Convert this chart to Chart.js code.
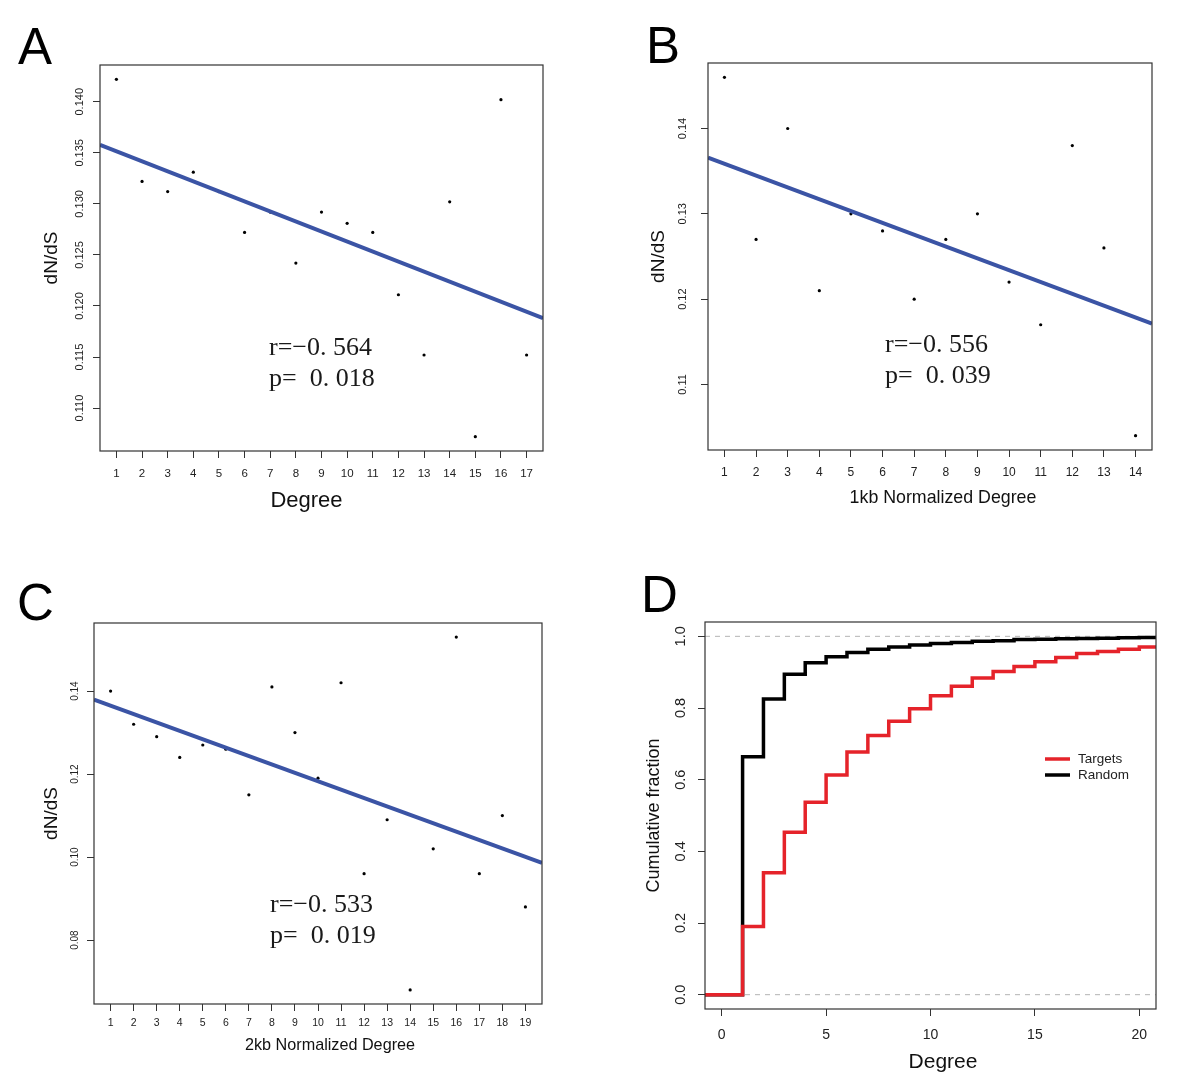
<!DOCTYPE html>
<html><head><meta charset="utf-8">
<script src="https://cdn.jsdelivr.net/npm/chart.js@4"></script>
<style>
html,body{margin:0;padding:0;background:#fff;width:1200px;height:1082px;overflow:hidden}
canvas{position:absolute}
</style></head><body>
<canvas id="cA" width="600" height="541" style="left:0;top:0;width:600px;height:541px"></canvas>
<canvas id="cB" width="600" height="541" style="left:600px;top:0;width:600px;height:541px"></canvas>
<canvas id="cC" width="600" height="541" style="left:0;top:541px;width:600px;height:541px"></canvas>
<canvas id="cD" width="600" height="541" style="left:600px;top:541px;width:600px;height:541px"></canvas>
<script>
const SANS = "'Liberation Sans', Arial, sans-serif";
const SERIF = "'Liberation Serif', 'Times New Roman', serif";

// ---- Panel A ----
const degreesA = [1,2,3,4,5,6,7,8,9,10,11,12,13,14,15,16,17];
const dndsA = [0.1422,0.1322,0.1312,0.1331,0.1312,0.1272,0.1292,0.1242,0.1292,0.1281,0.1272,0.1211,0.1152,0.1302,0.1072,0.1402,0.1152];
const yTicksA = [0.110,0.115,0.120,0.125,0.130,0.135,0.140];
const statsA = ['r=\u22120. 564','p=  0. 018'];

// ---- Panel B ----
const degreesB = [1,2,3,4,5,6,7,8,9,10,11,12,13,14];
const dndsB = [0.146,0.127,0.140,0.121,0.130,0.128,0.120,0.127,0.130,0.122,0.117,0.138,0.126,0.104];
const yTicksB = [0.11,0.12,0.13,0.14];
const statsB = ['r=\u22120. 556','p=  0. 039'];

// ---- Panel C ----
const degreesC = [1,2,3,4,5,6,7,8,9,10,11,12,13,14,15,16,17,18,19];
const dndsC = [0.140,0.132,0.129,0.124,0.127,0.126,0.115,0.141,0.130,0.119,0.142,0.096,0.109,0.068,0.102,0.153,0.096,0.110,0.088];
const yTicksC = [0.08,0.10,0.12,0.14];
const statsC = ['r=\u22120. 533','p=  0. 019'];

// ---- Panel D ----
const degreesD = [0,1,2,3,4,5,6,7,8,9,10,11,12,13,14,15,16,17,18,19,20];
const targetsD = [0,0.190,0.340,0.453,0.537,0.613,0.677,0.723,0.763,0.798,0.834,0.861,0.884,0.902,0.916,0.929,0.941,0.952,0.958,0.964,0.970];
const randomD  = [0,0.664,0.825,0.894,0.926,0.943,0.955,0.964,0.970,0.976,0.980,0.983,0.986,0.988,0.991,0.992,0.993,0.994,0.995,0.996,0.997];
const xTicksD = [0,5,10,15,20];
const yTicksD = [0,0.2,0.4,0.6,0.8,1.0];
const refLevelsD = [0,1];
const seriesNamesD = ['Targets','Random'];

function rRange(lo, hi){ const p=(hi-lo)*0.04; return [lo-p, hi+p]; }
function lsFit(xs, ys){
  const n=xs.length, mx=xs.reduce((a,b)=>a+b,0)/n, my=ys.reduce((a,b)=>a+b,0)/n;
  let sxy=0,sxx=0; for(let i=0;i<n;i++){sxy+=(xs[i]-mx)*(ys[i]-my); sxx+=(xs[i]-mx)*(xs[i]-mx);}
  const b=sxy/sxx; return {a:my-b*mx, b};
}

const extras = {
  id:'panelExtras',
  afterDraw(chart, args, o){
    const ctx=chart.ctx, ca=chart.chartArea;
    ctx.save();
    ctx.strokeStyle='#333'; ctx.lineWidth=1.2;
    ctx.strokeRect(ca.left, ca.top, ca.right-ca.left, ca.bottom-ca.top);
    const ys=chart.scales.y;
    ctx.fillStyle='#222'; ctx.font=o.yTickFont; ctx.textAlign='center'; ctx.textBaseline='middle';
    ys.ticks.forEach(t=>{
      const py=ys.getPixelForValue(t.value);
      ctx.save(); ctx.translate(o.yTickX, py); ctx.rotate(-Math.PI/2);
      ctx.fillText(t.value.toFixed(o.yTickDigits),0,0); ctx.restore();
    });
    // x-axis title
    ctx.fillStyle='#111'; ctx.font=o.xTitle.font; ctx.textAlign='center'; ctx.textBaseline='middle';
    ctx.fillText(o.xTitle.text, o.xTitle.x, o.xTitle.y);
    // panel letter
    ctx.fillStyle='#000'; ctx.font='51px '+SANS; ctx.textAlign='left'; ctx.textBaseline='alphabetic';
    ctx.fillText(o.letter, o.letterX, o.letterY);
    if(o.notes){
      ctx.font=o.noteFont; ctx.fillStyle='#1a1a1a';
      o.notes.forEach((s,i)=>ctx.fillText(s, o.noteX, o.noteY+i*o.noteGap));
    }
    if(o.legend){
      const L=o.legend;
      L.names.forEach((nm,i)=>{
        const ds=chart.data.datasets.find(d=>d.label===nm);
        const y=L.y0+i*L.gap;
        ctx.strokeStyle=ds.borderColor; ctx.lineWidth=3.5; ctx.beginPath();
        ctx.moveTo(L.x1,y); ctx.lineTo(L.x2,y); ctx.stroke();
        ctx.fillStyle='#222'; ctx.font=L.font; ctx.textBaseline='middle';
        ctx.fillText(nm, L.textX, y);
      });
    }
    ctx.restore();
  }
};

function axisCommon(){
  return {
    grid:{display:true, drawOnChartArea:false, drawTicks:true, tickLength:7, color:'#333', lineWidth:1},
    border:{display:false}
  };
}

function scatterPanel(id, xs, ys, yTicks, L, ex){
  const [xmin,xmax]=rRange(Math.min(...xs), Math.max(...xs));
  const [ymin,ymax]=rRange(Math.min(...ys), Math.max(...ys));
  const f=lsFit(xs, ys);
  new Chart(document.getElementById(id), {
    type:'scatter',
    data:{datasets:[
      {type:'line', label:'fit', data:[{x:xmin,y:f.a+f.b*xmin},{x:xmax,y:f.a+f.b*xmax}],
       borderColor:'#3b54a5', borderWidth:4, pointRadius:0, fill:false, clip:0},
      {label:'dN/dS', data:xs.map((x,i)=>({x, y:ys[i]})), pointRadius:1.6, pointBackgroundColor:'#000',
       pointBorderWidth:0, borderColor:'#000', showLine:false}
    ]},
    options:{
      responsive:false, animation:false, devicePixelRatio:1,
      layout:{padding:{top:L.top, right:L.right, left:0, bottom:0}},
      plugins:{legend:{display:false}, tooltip:{enabled:false}, panelExtras:ex},
      scales:{
        x:Object.assign(axisCommon(), {type:'linear', min:xmin, max:xmax,
          afterBuildTicks:s=>{s.ticks=xs.map(v=>({value:v}));},
          ticks:{autoSkip:false, maxRotation:0, minRotation:0, color:'#222', padding:L.xTickPad,
                 font:{family:SANS, size:L.xTickSize}, callback:v=>String(v)},
          title:{display:false},
          afterFit:s=>{s.height=L.xAxisH;}}),
        y:Object.assign(axisCommon(), {type:'linear', min:ymin, max:ymax,
          afterBuildTicks:s=>{s.ticks=yTicks.map(v=>({value:v}));},
          ticks:{display:false},
          title:{display:true, text:'dN/dS', color:'#111', font:{family:SANS, size:19},
                 padding:{top:L.yTitlePad, bottom:0}},
          afterFit:s=>{s.width=L.yAxisW;}})
      }
    },
    plugins:[extras]
  });
}

scatterPanel('cA', degreesA, dndsA, yTicksA,
  {top:65, right:57, yAxisW:100, xAxisH:90, xTickSize:11.5, xTickPad:9, yTitlePad:40.5},
  {yTickFont:'11px '+SANS, yTickX:79.5, yTickDigits:3, letter:'A', letterX:18, letterY:64,
   xTitle:{text:'Degree', font:'22px '+SANS, x:306.5, y:500.5},
   notes:statsA, noteFont:'26px '+SERIF, noteX:269, noteY:355, noteGap:31});

scatterPanel('cB', degreesB, dndsB, yTicksB,
  {top:63, right:48, yAxisW:108, xAxisH:91, xTickSize:12, xTickPad:8.5, yTitlePad:47.6},
  {yTickFont:'11px '+SANS, yTickX:83, yTickDigits:2, letter:'B', letterX:46, letterY:63,
   xTitle:{text:'1kb Normalized Degree', font:'17.8px '+SANS, x:343, y:498},
   notes:statsB, noteFont:'26px '+SERIF, noteX:285, noteY:352, noteGap:31});

scatterPanel('cC', degreesC, dndsC, yTicksC,
  {top:82, right:58, yAxisW:94, xAxisH:78, xTickSize:10.5, xTickPad:5.7, yTitlePad:40.6},
  {yTickFont:'10px '+SANS, yTickX:75, yTickDigits:2, letter:'C', letterX:17, letterY:79,
   xTitle:{text:'2kb Normalized Degree', font:'16.2px '+SANS, x:330, y:505},
   notes:statsC, noteFont:'26px '+SERIF, noteX:270, noteY:371, noteGap:31});

// ---- Panel D chart ----
(function(){
  const [xmin,xmax]=rRange(0,20);
  const [ymin,ymax]=rRange(0,1);
  function ecdf(vals){
    const pts=[{x:xmin, y:vals[0]}];
    degreesD.forEach((d,i)=>pts.push({x:d, y:vals[i]}));
    pts.push({x:xmax, y:vals[vals.length-1]});
    return pts;
  }
  const ds=[
    {label:seriesNamesD[0], data:ecdf(targetsD), stepped:true, borderColor:'#e5232a', borderWidth:3.5, pointRadius:0, fill:false},
    {label:seriesNamesD[1], data:ecdf(randomD), stepped:true, borderColor:'#000000', borderWidth:3.5, pointRadius:0, fill:false}
  ];
  refLevelsD.forEach(v=>ds.push({label:'ref'+v, data:[{x:xmin,y:v},{x:xmax,y:v}], borderColor:'#b4b4b4',
    borderWidth:1, borderDash:[5,5], pointRadius:0, fill:false}));
  new Chart(document.getElementById('cD'), {
    type:'line',
    data:{datasets:ds},
    options:{
      responsive:false, animation:false, devicePixelRatio:1,
      layout:{padding:{top:81, right:44, left:0, bottom:0}},
      plugins:{legend:{display:false}, tooltip:{enabled:false},
        panelExtras:{yTickFont:'14.5px '+SANS, yTickX:81, yTickDigits:1, letter:'D', letterX:41, letterY:71,
          xTitle:{text:'Degree', font:'21px '+SANS, x:343, y:521},
          legend:{names:seriesNamesD, x1:445, x2:470, y0:218, gap:16, textX:478, font:'13.5px '+SANS}}},
      scales:{
        x:Object.assign(axisCommon(), {type:'linear', min:xmin, max:xmax,
          afterBuildTicks:s=>{s.ticks=xTicksD.map(v=>({value:v}));},
          ticks:{autoSkip:false, maxRotation:0, minRotation:0, color:'#222', padding:10.6,
                 font:{family:SANS, size:14}, callback:v=>String(v)},
          title:{display:false},
          afterFit:s=>{s.height=73;}}),
        y:Object.assign(axisCommon(), {type:'linear', min:ymin, max:ymax,
          afterBuildTicks:s=>{s.ticks=yTicksD.map(v=>({value:v}));},
          ticks:{display:false},
          title:{display:true, text:'Cumulative fraction', color:'#111', font:{family:SANS, size:18},
                 padding:{top:43, bottom:0}},
          afterFit:s=>{s.width=105;}})
      }
    },
    plugins:[extras]
  });
})();
</script>
</body></html>
